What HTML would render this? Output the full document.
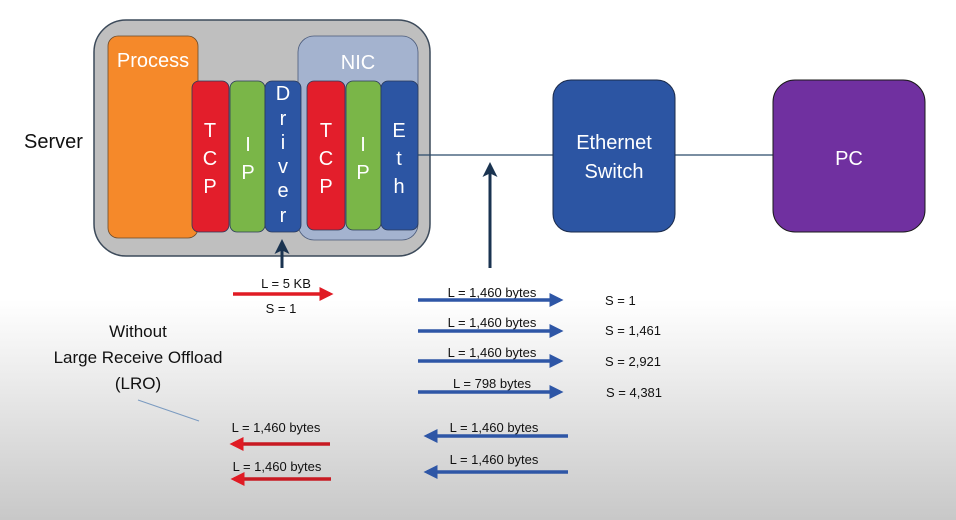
<!DOCTYPE html>
<html><head><style>
html,body{margin:0;padding:0;}
body{width:956px;height:520px;overflow:hidden;background:linear-gradient(#fff 0px,#fff 300px,#c8c8c8 520px);}
svg{display:block;font-family:"Liberation Sans",sans-serif;}
</style></head><body>
<svg width="956" height="520" viewBox="0 0 956 520">
<defs>
<marker id="bh" markerWidth="4" markerHeight="4" refX="3" refY="2" orient="auto" markerUnits="strokeWidth"><path d="M0,0 L4,2 L0,4 z" fill="#2e56a6"/></marker>
<marker id="rh" markerWidth="4" markerHeight="4" refX="3" refY="2" orient="auto" markerUnits="strokeWidth"><path d="M0,0 L4,2 L0,4 z" fill="#e01b24"/></marker>
<marker id="kh" markerWidth="5" markerHeight="5" refX="4" refY="2.5" orient="auto" markerUnits="strokeWidth"><path d="M0,0 L5,2.5 L0,5 L1.2,2.5 z" fill="#1a3350"/></marker>
</defs>
<text x="24" y="148" font-size="20" fill="#111">Server</text>
<rect x="94" y="20" width="336" height="236" rx="32" fill="#bfbfbf" stroke="#3c4a5a" stroke-width="1.5"/>
<rect x="108" y="36" width="90" height="202" rx="10" fill="#f5892a" stroke="#6a4a2a" stroke-width="0.8"/>
<text x="153" y="67" font-size="20" fill="#fff" text-anchor="middle">Process</text>
<rect x="298" y="36" width="120" height="204" rx="16" fill="#a4b3cf" stroke="#4a5a7a" stroke-width="0.8"/>
<text x="358" y="69" font-size="20" fill="#fff" text-anchor="middle">NIC</text>
<g stroke="#2a3a5a" stroke-width="0.8">
<rect x="192" y="81" width="37" height="151" rx="7" fill="#e31e2b"/>
<rect x="230" y="81" width="35" height="151" rx="7" fill="#7ab648"/>
<rect x="265" y="81" width="36" height="151" rx="7" fill="#2c55a3"/>
<rect x="307" y="81" width="38" height="149" rx="7" fill="#e31e2b"/>
<rect x="346" y="81" width="35" height="149" rx="7" fill="#7ab648"/>
<rect x="381" y="81" width="37" height="149" rx="7" fill="#2c55a3"/>
</g>
<g font-size="20" fill="#fff" text-anchor="middle">
<text x="210" y="137">T</text><text x="210" y="165">C</text><text x="210" y="193">P</text>
<text x="248" y="151">I</text><text x="248" y="179">P</text>
<text x="283" y="100">D</text><text x="283" y="125">r</text><text x="283" y="149">i</text><text x="283" y="173">v</text><text x="283" y="197">e</text><text x="283" y="222">r</text>
<text x="326" y="137">T</text><text x="326" y="165">C</text><text x="326" y="193">P</text>
<text x="363" y="151">I</text><text x="363" y="179">P</text>
<text x="399" y="137">E</text><text x="399" y="165">t</text><text x="399" y="193">h</text>
</g>
<line x1="418" y1="155" x2="553" y2="155" stroke="#2a4a6a" stroke-width="1.2"/>
<line x1="675" y1="155" x2="773" y2="155" stroke="#2a4a6a" stroke-width="1.2"/>
<rect x="553" y="80" width="122" height="152" rx="18" fill="#2c55a3" stroke="#1a2a4a" stroke-width="1"/>
<text x="614" y="149" font-size="20" fill="#fff" text-anchor="middle">Ethernet</text>
<text x="614" y="178" font-size="20" fill="#fff" text-anchor="middle">Switch</text>
<rect x="773" y="80" width="152" height="152" rx="22" fill="#7030a0" stroke="#1a1a1a" stroke-width="1"/>
<text x="849" y="165" font-size="20" fill="#fff" text-anchor="middle">PC</text>
<line x1="490" y1="268" x2="490" y2="165" stroke="#1a3350" stroke-width="3" marker-end="url(#kh)"/>
<line x1="282" y1="268" x2="282" y2="242" stroke="#1a3350" stroke-width="3" marker-end="url(#kh)"/>
<g font-size="13" fill="#111" text-anchor="middle">
<text x="286" y="288">L = 5 KB</text>
<text x="281" y="313">S = 1</text>
<text x="492" y="297">L = 1,460 bytes</text>
<text x="492" y="327">L = 1,460 bytes</text>
<text x="492" y="357">L = 1,460 bytes</text>
<text x="492" y="388">L = 798 bytes</text>
<text x="494" y="432">L = 1,460 bytes</text>
<text x="494" y="464">L = 1,460 bytes</text>
<text x="276" y="432">L = 1,460 bytes</text>
<text x="277" y="471">L = 1,460 bytes</text>
</g>
<g font-size="13" fill="#111">
<text x="605" y="305">S = 1</text>
<text x="605" y="335">S = 1,461</text>
<text x="605" y="366">S = 2,921</text>
<text x="606" y="397">S = 4,381</text>
</g>
<g stroke-width="3.5">
<line x1="233" y1="294" x2="330" y2="294" stroke="#e01b24" marker-end="url(#rh)"/>
<line x1="418" y1="300" x2="560" y2="300" stroke="#2e56a6" marker-end="url(#bh)"/>
<line x1="418" y1="331" x2="560" y2="331" stroke="#2e56a6" marker-end="url(#bh)"/>
<line x1="418" y1="361" x2="560" y2="361" stroke="#2e56a6" marker-end="url(#bh)"/>
<line x1="418" y1="392" x2="560" y2="392" stroke="#2e56a6" marker-end="url(#bh)"/>
<line x1="568" y1="436" x2="427" y2="436" stroke="#2e56a6" marker-end="url(#bh)"/>
<line x1="568" y1="472" x2="427" y2="472" stroke="#2e56a6" marker-end="url(#bh)"/>
<line x1="330" y1="444" x2="233" y2="444" stroke="#c81a22" marker-end="url(#rh)"/>
<line x1="331" y1="479" x2="234" y2="479" stroke="#c81a22" marker-end="url(#rh)"/>
</g>
<g font-size="17" fill="#111" text-anchor="middle">
<text x="138" y="337">Without</text>
<text x="138" y="363">Large Receive Offload</text>
<text x="138" y="389">(LRO)</text>
</g>
<line x1="138" y1="400" x2="199" y2="421" stroke="#7a9ac0" stroke-width="1"/>
</svg>
</body></html>
